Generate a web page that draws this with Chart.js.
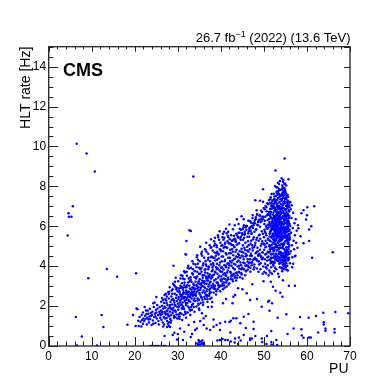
<!DOCTYPE html>
<html>
<head>
<meta charset="utf-8">
<script src="https://cdn.jsdelivr.net/npm/chart.js@4"></script>
<style>
  html, body { margin: 0; padding: 0; background: #fff; }
  #wrap { width: 389px; height: 389px; }
</style>
</head>
<body>
<div id="wrap"><canvas id="puChart" width="389" height="389"></canvas></div>
<script>
// HLT rate vs pileup

const xTickValues = [0, 10, 20, 30, 40, 50, 60, 70];
const yTickValues = [0, 2, 4, 6, 8, 10, 12, 14];

// lonely points far from the main band
const isolatedPoints = [
  [6.5,10.13],[8.8,9.65],[10.7,8.75],[5.6,7.0],[4.6,6.65],[4.7,6.48],[5.3,6.48],[4.4,5.54],
  [9.2,3.39],[13.5,3.86],[15.9,3.47],[20.3,3.64],[33.6,8.5],[29.0,4.02],[31.9,4.59],
  [32.7,5.8],[33.0,5.76],[32.0,5.26],[31.8,4.6],[35.2,4.97]
];

// points below the band (0 - 2 Hz)
const lowRatePoints = [
  [6.3,1.45],[6.6,0.03],[7.7,0.47],[11.2,0.02],[12.3,1.55],[12.7,0.95],[18.3,1.07],
  [23.5,0.0],[23.9,0.0],[24.3,0.0],[24.7,0.0],[25.1,0.0],[25.5,0.0],[25.9,0.0],[26.3,0.0],[26.7,0.0],[27.1,0.0],
  [26.9,0.5],[27.4,1.4],[27.5,0.95],[28.0,1.2],[28.2,0.95],[28.8,0.55],[29.2,0.67],[29.8,0.33],[30.0,0.6],
  [30.5,0.88],[31.2,0.3],[31.5,0.72],[32.5,1.05],[33.0,0.45],[33.3,0.6],[34.0,0.8],[34.4,0.88],[34.8,0.3],
  [34.5,0.12],[34.7,0.05],[35.0,0.18],[35.2,0.08],[35.4,0.22],[35.6,0.1],[35.9,0.15],[36.1,0.05],[34.9,0.25],[35.7,0.28],
  [35.2,1.25],[35.6,1.64],[36.0,1.05],[35.0,1.8],[36.7,0.88],[37.5,0.8],[38.3,1.33],[39.0,1.05],[39.8,0.8],
  [39.2,0.27],[39.8,0.3],[40.4,0.35],[41.0,0.3],[41.6,0.3],[42.3,0.22],[43.2,0.18],[44.0,0.1],
  [40.5,2.14],[41.2,2.35],[42.9,2.47],[43.3,2.55],[42.7,2.14],[42.0,1.2],[42.3,1.27],[42.9,1.39],[43.6,1.39],
  [41.0,1.22],[42.2,0.68],[44.2,0.43],[44.6,0.27],[44.5,1.14],[45.8,0.9],[46.4,1.6],[45.3,0.55],[46.8,0.3],
  [48.0,0.5],[49.6,0.2],[50.6,0.1],[51.7,0.2],[53.1,0.05],[47.6,1.22],[47.6,0.85],[49.5,0.38],[47.2,0.38],
  [50.7,0.5],[51.8,0.08],[52.9,0.3],[51.7,0.75],[55.5,0.6],
  [51.3,1.77],[51.0,2.22],[51.2,2.27],[51.9,2.14],[54.3,2.47],[53.8,2.67],[52.7,2.77],[52.1,2.97],[55.8,3.02],
  [54.4,3.3],[53.5,3.47],[51.6,3.22],[49.9,3.25],[48.4,2.35],[46.0,2.64],[47.3,3.1],[45.0,2.85],[44.0,2.9],
  [38.0,2.2],[37.0,1.95],[36.5,1.5],[33.8,1.2],[31.0,1.3],[30.2,1.45],
  [45.3,1.47],[49.5,1.97],[46.8,2.3],[37.9,1.97],[38.3,0.97],[36.0,1.39],[39.8,1.14],[43.3,0.38],[46.8,0.38],
  [55.2,1.59],[53.2,1.42],[56.9,0.88],[58.7,0.84],[58.4,1.45],[60.4,1.42],[62.1,1.5],[63.8,1.67],[66.6,1.7],[69.6,1.64],
  [63.9,1.19],[63.9,1.08],[64.3,0.88],[64.3,0.77],[66.4,0.85],[66.4,0.68],[62.6,0.68],[58.8,0.52],[59.2,0.41],
  [60.5,0.42],[60.9,0.42]
];

// rising band, PU 18 - 30
const bandLowPU = [
  [19.6,1.55],[20.4,1.88],[20.6,1.84],[20.2,1.0],[20.9,1.0],[21.3,1.22],[21.1,1.45],[21.7,1.3],
  [21.9,1.68],[21.5,0.98],[22.0,1.38],[20.8,1.27],[21.6,1.55],[21.9,1.12],
  [22.2,1.25],[22.4,1.52],[22.6,1.78],[22.8,1.08],[22.3,1.95],[22.9,1.42],[23.1,1.62],[23.3,1.18],[23.5,1.87],
  [23.6,1.35],[23.8,1.52],[23.9,1.05],[24.1,1.72],[24.2,1.28],[24.4,1.95],[24.5,1.45],[24.7,1.62],[24.8,1.15],
  [24.9,1.82],[25.1,1.38],[25.2,2.05],[25.4,1.55],[25.5,1.25],[25.7,1.72],[25.8,1.95],[25.9,1.42],[22.5,1.35],
  [23.0,1.78],[23.4,1.48],[24.0,1.55],[24.6,2.18],[25.0,1.68],[25.6,1.08],[23.7,1.66],[24.3,1.12],[22.7,1.6],
  [25.3,1.88],[24.8,1.48],[23.2,1.33],[25.9,1.62],[25.0,2.45],[24.3,2.14],
  [26.0,1.55],[26.1,1.78],[26.2,1.32],[26.3,2.02],[26.4,1.62],[26.5,1.18],[26.6,1.88],[26.7,1.45],[26.8,2.15],
  [26.9,1.7],[27.0,1.38],[27.1,1.92],[27.2,1.58],[27.3,2.28],[27.4,1.75],[27.5,1.25],[27.6,2.05],[27.7,1.62],
  [27.8,1.88],[27.9,2.38],[28.0,1.48],[28.1,1.95],[28.2,1.72],[28.3,2.22],[28.4,1.55],[28.5,2.48],[28.6,1.85],
  [28.7,2.08],[28.8,1.65],[28.9,2.35],[29.0,1.92],[29.1,1.42],[29.2,2.18],[29.3,2.62],[29.4,1.78],[29.5,2.02],
  [29.6,2.42],[29.7,1.58],[29.8,2.25],[29.9,1.95],[26.3,1.72],[26.9,1.98],[27.4,2.15],[27.8,1.52],[28.2,2.05],
  [28.6,2.32],[28.9,1.78],[29.3,2.05],[29.7,2.55],[27.1,1.65],[27.6,1.78],[28.4,1.88],[29.1,2.28],[29.5,1.72],
  [28.0,2.72],[28.8,2.85],[29.4,2.98],[27.9,2.6],[29.9,2.75],[26.6,2.3]
];

// rising band, PU 30 - 42
const bandMidPU = [
  [30.0,2.12],[30.1,1.82],[30.2,2.45],[30.3,2.02],[30.4,2.68],[30.5,1.65],[30.6,2.28],[30.7,2.92],[30.8,2.08],[30.9,1.88],
  [31.0,2.55],[31.1,2.18],[31.2,2.82],[31.3,1.95],[31.4,2.38],[31.5,3.05],[31.6,2.25],[31.7,1.72],[31.8,2.62],[31.9,2.05],
  [32.0,2.95],[32.1,2.42],[32.2,2.15],[32.3,2.72],[32.4,3.18],[32.5,2.32],[32.6,1.92],[32.7,2.58],[32.8,2.88],[32.9,2.22],
  [33.0,3.32],[33.1,2.65],[33.2,2.38],[33.3,2.05],[33.4,2.95],[33.5,2.52],[33.6,3.12],[33.7,2.28],[33.8,2.75],[33.9,3.45],
  [30.15,2.35],[30.45,2.18],[30.75,2.48],[31.05,2.02],[31.35,2.7],[31.65,2.45],[31.95,2.32],[32.25,2.58],[32.55,2.72],
  [32.85,2.45],[33.15,2.82],[33.45,2.62],[33.75,2.55],[30.25,1.95],[30.55,2.58],[30.85,2.35],[31.15,2.45],[31.45,1.85],
  [31.75,2.95],[32.05,2.68],[32.35,1.98],[32.65,3.02],[32.95,2.62],[33.25,2.72],[33.55,2.88],[33.85,2.38],[30.35,2.75],
  [30.65,2.05],[31.25,2.62],[31.85,2.15],[32.45,2.48],[33.05,2.55],[33.65,2.68],[30.95,3.15],[31.55,3.35],[32.15,3.52],
  [32.75,3.25],[33.35,3.65],[33.95,2.9],[31.8,1.62],[30.2,1.58],[32.9,1.78],[33.5,3.85],[32.3,3.92],[31.2,3.38],
  [33.8,3.05],[30.6,3.02],[32.6,2.25],[33.1,1.95],[31.9,2.78],
  [34.0,2.85],[34.1,3.22],[34.2,2.52],[34.3,3.05],[34.4,2.72],[34.5,3.48],[34.6,2.38],[34.7,3.15],[34.8,2.95],[34.9,3.62],
  [35.0,2.65],[35.1,3.35],[35.2,2.82],[35.3,3.08],[35.4,2.45],[35.5,3.72],[35.6,3.02],[35.7,2.68],[35.8,3.42],[35.9,3.18],
  [36.0,2.78],[36.1,3.55],[36.2,3.25],[36.3,2.92],[36.4,3.85],[36.5,2.55],[36.6,3.38],[36.7,3.12],[36.8,2.85],[36.9,3.65],
  [37.0,3.28],[37.1,2.98],[37.2,3.95],[37.3,3.45],[37.4,2.72],[37.5,3.58],[37.6,3.22],[37.7,4.08],[37.8,3.02],[37.9,3.75],
  [34.15,2.62],[34.45,3.02],[34.75,2.78],[35.05,3.12],[35.35,2.92],[35.65,3.28],[35.95,2.98],[36.25,3.12],[36.55,3.48],
  [36.85,3.28],[37.15,3.52],[37.45,3.18],[37.75,3.38],[34.25,3.38],[34.55,2.88],[34.85,3.25],[35.15,2.58],[35.45,3.15],
  [35.75,3.55],[36.05,3.22],[36.35,3.68],[36.65,2.75],[36.95,3.42],[37.25,3.08],[37.55,2.88],[37.85,3.48],[34.35,3.95],
  [34.65,4.12],[35.25,3.85],[35.85,4.05],[36.45,4.25],[37.05,3.85],[37.65,4.45],[34.05,2.25],[34.95,2.32],[35.55,2.42],
  [36.15,2.45],[36.75,2.55],[37.35,2.62],[37.95,2.95],[34.5,4.55],[35.6,4.72],[36.3,4.85],[37.1,4.42],[37.8,4.95],
  [35.9,2.18],[36.9,2.35],[34.8,2.05],[37.5,2.35],[36.6,4.02],
  [38.0,3.45],[38.1,3.82],[38.2,3.12],[38.3,4.05],[38.4,3.58],[38.5,2.92],[38.6,3.72],[38.7,4.28],[38.8,3.35],[38.9,3.95],
  [39.0,3.18],[39.1,4.12],[39.2,3.62],[39.3,3.88],[39.4,3.05],[39.5,4.38],[39.6,3.52],[39.7,3.78],[39.8,4.18],[39.9,3.32],
  [40.0,3.92],[40.1,3.48],[40.2,4.25],[40.3,3.72],[40.4,3.12],[40.5,4.48],[40.6,3.85],[40.7,3.38],[40.8,4.05],[40.9,3.65],
  [41.0,4.32],[41.1,3.55],[41.2,3.95],[41.3,4.58],[41.4,3.28],[41.5,4.12],[41.6,3.78],[41.7,4.42],[41.8,3.92],[41.9,4.65],
  [38.15,3.55],[38.45,3.28],[38.75,3.68],[39.05,3.85],[39.35,3.42],[39.65,4.05],[39.95,3.72],[40.25,3.95],[40.55,3.58],
  [40.85,4.25],[41.15,4.02],[41.45,3.68],[41.75,4.15],[38.25,4.42],[38.55,4.68],[38.85,4.52],[39.15,4.72],[39.45,4.62],
  [39.75,4.85],[40.05,4.75],[40.35,5.05],[40.65,4.92],[40.95,5.12],[41.25,4.95],[41.55,5.25],[41.85,5.15],[38.35,2.88],
  [38.65,3.02],[38.95,2.75],[39.25,3.15],[39.55,2.95],[39.85,3.02],[40.15,3.25],[40.45,2.85],[40.75,3.05],[41.05,3.35],
  [41.35,2.98],[41.65,3.42],[41.95,3.15],[38.05,3.95],[38.6,5.42],[39.3,5.55],[39.9,5.18],[40.5,5.62],[41.2,5.88],
  [41.7,5.72],[42.0,6.09],[39.0,5.05],[40.8,5.42],[38.4,5.02]
];

// extra points widening the band, PU 26 - 50
const bandSpread = [
  [26.37,2.41],[26.82,1.08],[26.14,2.22],[26.59,0.98],[26.91,2.55],
  [27.23,2.62],[27.68,1.12],[27.45,2.48],[27.91,1.02],[27.12,2.35],[27.77,2.71],
  [28.13,2.95],[28.47,1.28],[28.71,2.62],[28.36,1.18],[28.92,3.12],[28.58,2.78],[28.24,1.35],
  [29.17,3.05],[29.42,1.45],[29.63,2.85],[29.88,1.38],[29.35,3.22],[29.74,2.92],[29.06,1.52],[29.51,3.42],
  [30.09,3.25],[30.41,1.48],[30.62,3.38],[30.83,1.62],[30.27,2.88],[30.71,3.55],[30.38,1.35],[30.94,2.96],
  [31.08,3.52],[31.33,1.55],[31.57,3.18],[31.79,1.68],[31.22,2.92],[31.64,3.68],[31.91,1.42],[31.46,3.75],[31.13,1.88],
  [32.04,3.72],[32.31,1.68],[32.52,3.38],[32.77,1.82],[32.18,3.05],[32.63,3.88],[32.88,1.55],[32.42,4.02],[32.96,3.45],
  [33.07,3.92],[33.28,1.82],[33.49,3.58],[33.71,1.95],[33.19,3.22],[33.62,4.12],[33.87,1.72],[33.38,4.25],[33.93,3.75],[33.54,2.12],
  [34.11,4.08],[34.32,1.98],[34.53,3.72],[34.74,2.12],[34.23,3.45],[34.66,4.32],[34.89,1.88],[34.41,4.45],[34.97,3.92],[34.58,2.28],
  [35.08,4.25],[35.29,2.15],[35.51,3.92],[35.72,2.32],[35.18,3.62],[35.63,4.52],[35.86,2.05],[35.42,4.62],[35.94,4.15],[35.37,2.48],
  [36.12,4.42],[36.33,2.35],[36.54,4.08],[36.76,2.48],[36.21,3.82],[36.67,4.72],[36.88,2.22],[36.44,4.82],[36.98,4.32],[36.28,2.65],[36.59,5.18],
  [37.06,4.62],[37.27,2.52],[37.48,4.25],[37.69,2.68],[37.17,3.98],[37.61,4.92],[37.83,2.42],[37.39,5.05],[37.92,4.48],[37.33,2.82],[37.72,5.35],
  [38.09,4.78],[38.31,2.68],[38.52,4.42],[38.73,2.85],[38.19,4.15],[38.64,5.12],[38.86,2.58],[38.42,5.25],[38.97,4.65],[38.28,3.02],
  [39.04,4.95],[39.26,2.85],[39.47,4.58],[39.68,3.02],[39.14,4.32],[39.59,5.32],[39.81,2.75],[39.37,5.45],[39.92,4.82],[39.23,3.18],[39.71,5.75],
  [40.07,5.02],[40.28,3.02],[40.49,4.75],[40.71,3.18],[40.17,4.48],[40.62,5.32],[40.84,2.92],[40.39,5.45],[40.93,4.98],[40.26,3.35],[40.76,5.72],
  [41.03,5.18],[41.24,3.18],[41.46,4.92],[41.67,3.35],[41.13,4.65],[41.58,5.52],[41.79,3.08],[41.35,5.65],[41.91,5.15],[41.21,3.52],[41.73,5.45],
  [42.06,5.35],[42.27,3.35],[42.48,5.08],[42.69,3.52],[42.16,4.82],[42.61,5.28],[42.82,3.25],[42.38,5.55],[42.93,5.32],[42.24,3.68],
  [43.02,5.52],[43.23,3.52],[43.44,5.25],[43.66,3.68],[43.12,4.98],[43.57,5.62],[43.78,3.42],[43.34,5.35],[43.89,5.48],[43.19,3.85],[43.71,6.35],
  [44.08,5.68],[44.29,3.68],[44.51,5.42],[44.72,3.85],[44.18,5.15],[44.63,5.48],[44.84,3.58],[44.39,5.88],[44.95,5.65],[44.26,4.02],
  [45.04,5.85],[45.26,3.85],[45.47,5.58],[45.68,4.02],[45.14,5.32],[45.59,5.62],[45.81,3.75],[45.36,6.05],[45.92,5.82],[45.21,4.18],[45.73,5.95],
  [46.07,6.02],[46.28,4.02],[46.49,5.75],[46.71,4.18],[46.17,5.48],[46.62,5.88],[46.83,3.92],[46.38,6.28],[46.94,5.98],[46.24,4.35],
  [47.03,6.18],[47.24,4.18],[47.46,5.92],[47.67,4.35],[47.13,5.65],[47.58,6.05],[47.79,4.08],[47.35,6.42],[47.91,6.15],[47.21,4.52],
  [48.06,6.35],[48.27,4.35],[48.48,6.08],[48.69,4.52],[48.16,5.82],[48.61,6.22],[48.82,4.25],[48.37,6.58],[48.93,6.32],[48.23,4.68],[48.74,3.72],
  [49.02,6.52],[49.23,4.52],[49.44,6.25],[49.66,4.68],[49.12,5.98],[49.57,6.72],[49.78,4.42],[49.33,6.38],[49.89,6.48],[49.19,3.85],[49.71,3.62]
];

// rising band, PU 42 - 50
const bandHighPU = [
  [42.0,4.05],[42.1,4.42],[42.2,3.72],[42.3,4.65],[42.4,4.18],[42.5,3.58],[42.6,4.85],[42.7,4.28],[42.8,3.92],[42.9,4.55],
  [43.0,4.12],[43.1,4.95],[43.2,3.85],[43.3,4.38],[43.4,4.72],[43.5,3.65],[43.6,4.48],[43.7,5.08],[43.8,4.22],[43.9,3.98],
  [44.0,4.62],[44.1,4.28],[44.2,5.15],[44.3,3.88],[44.4,4.75],[44.5,4.42],[44.6,5.32],[44.7,4.05],[44.8,4.88],[44.9,4.52],
  [45.0,3.92],[45.1,5.05],[45.2,4.68],[45.3,4.35],[45.4,5.42],[45.5,4.15],[45.6,4.82],[45.7,5.18],[45.8,4.48],[45.9,3.78],
  [42.15,4.25],[42.45,4.02],[42.75,4.72],[43.05,4.35],[43.35,4.08],[43.65,4.82],[43.95,4.45],[44.25,4.55],[44.55,4.18],
  [44.85,4.72],[45.15,4.48],[45.45,4.92],[45.75,4.62],[42.25,5.12],[42.55,5.28],[42.85,5.05],[43.15,5.38],[43.45,5.22],
  [43.75,5.55],[44.05,5.42],[44.35,5.68],[44.65,5.82],[44.95,5.58],[45.25,5.95],[45.55,5.72],[45.85,6.02],[42.35,3.48],
  [42.65,3.35],[42.95,3.62],[43.25,3.42],[43.55,3.28],[43.85,3.55],[44.15,3.72],[44.45,3.45],[44.75,3.65],[45.05,3.38],
  [45.35,3.85],[45.65,3.55],[45.95,4.05],[44.8,6.5],[43.2,6.05],[45.3,6.35],[42.8,5.85],[44.1,6.12],
  [46.0,4.55],[46.1,4.98],[46.2,4.22],[46.3,5.25],[46.4,4.72],[46.5,3.95],[46.6,5.48],[46.7,4.85],[46.8,4.35],[46.9,5.12],
  [47.0,4.62],[47.1,5.62],[47.2,4.18],[47.3,5.05],[47.4,4.78],[47.5,5.35],[47.6,3.85],[47.7,4.95],[47.8,5.72],[47.9,4.42],
  [48.0,5.18],[48.1,4.65],[48.2,5.85],[48.3,4.28],[48.4,5.42],[48.5,4.92],[48.6,6.05],[48.7,4.55],[48.8,5.28],[48.9,4.08],
  [49.0,5.58],[49.1,4.82],[49.2,6.22],[49.3,5.02],[49.4,4.45],[49.5,5.75],[49.6,5.25],[49.7,4.68],[49.8,6.35],[49.9,5.12],
  [46.15,4.78],[46.45,5.05],[46.75,4.52],[47.05,5.28],[47.35,4.92],[47.65,5.45],[47.95,5.05],[48.25,5.32],[48.55,4.75],
  [48.85,5.55],[49.15,5.38],[49.45,5.12],[49.75,5.62],[46.25,3.82],[46.55,4.15],[46.85,3.72],[47.15,4.05],[47.45,4.32],
  [47.75,3.95],[48.05,4.38],[48.35,3.88],[48.65,4.25],[48.95,4.62],[49.25,4.15],[49.55,4.35],[49.85,3.98],[46.35,5.65],
  [46.65,5.92],[46.95,5.78],[47.25,6.02],[47.55,6.15],[47.85,6.28],[48.15,6.45],[48.45,6.62],[48.75,6.32],[49.05,6.55],
  [49.35,6.78],[49.65,6.48],[49.95,6.92],[48.0,7.3],[49.1,7.28],[49.8,7.23],[49.8,7.85],[48.3,6.8],[47.4,6.55],[46.8,6.25]
];

// dense core, PU 50 - 54
const coreLeft = [
  [50.0,5.45],[50.05,4.82],[50.1,6.12],[50.15,5.08],[50.2,4.35],[50.25,5.72],[50.3,6.48],[50.35,4.95],[50.4,5.28],[50.45,3.95],
  [50.5,6.02],[50.55,5.55],[50.6,4.62],[50.65,6.75],[50.7,5.15],[50.75,4.28],[50.8,5.88],[50.85,6.32],[50.9,4.72],[50.95,5.38],
  [51.0,7.1],[51.05,4.48],[51.1,5.95],[51.15,6.58],[51.2,5.02],[51.25,3.78],[51.3,6.22],[51.35,5.62],[51.4,4.85],[51.45,6.85],
  [51.5,5.25],[51.55,4.15],[51.6,6.42],[51.65,5.78],[51.7,4.58],[51.75,7.05],[51.8,5.48],[51.85,6.15],[51.9,4.92],[51.95,5.85],
  [50.02,5.12],[50.12,5.82],[50.22,6.28],[50.32,4.58],[50.42,5.65],[50.52,4.98],[50.62,5.92],[50.72,6.55],[50.82,4.45],
  [50.92,6.08],[51.02,5.32],[51.12,4.68],[51.22,6.72],[51.32,5.05],[51.42,5.72],[51.52,6.62],[51.62,4.38],[51.72,5.98],
  [51.82,6.88],[51.92,4.22],[50.08,3.72],[50.28,4.12],[50.48,3.65],[50.68,3.88],[50.88,4.05],[51.08,3.55],[51.28,4.32],
  [51.48,3.68],[51.68,3.95],[51.88,3.62],[50.18,6.85],[50.38,7.02],[50.58,6.95],[50.78,7.15],[50.98,6.62],[51.18,7.32],
  [51.38,7.18],[51.58,7.45],[51.78,7.62],[51.98,7.28],
  [52.0,5.62],[52.03,4.88],[52.06,6.35],[52.09,5.15],[52.12,7.02],[52.15,4.42],[52.18,5.95],[52.21,6.68],[52.24,5.32],[52.27,4.75],
  [52.3,6.12],[52.33,7.35],[52.36,5.48],[52.39,4.22],[52.42,6.52],[52.45,5.78],[52.48,4.95],[52.51,7.18],[52.54,6.02],[52.57,5.25],
  [52.6,3.92],[52.63,6.85],[52.66,5.58],[52.69,4.62],[52.72,6.38],[52.75,7.52],[52.78,5.08],[52.81,6.18],[52.84,4.35],[52.87,5.85],
  [52.9,6.72],[52.93,5.42],[52.96,7.68],[52.99,4.78],[53.02,6.25],[53.05,5.65],[53.08,7.05],[53.11,4.52],[53.14,5.98],[53.17,6.58],
  [53.2,5.18],[53.23,7.42],[53.26,4.25],[53.29,6.08],[53.32,5.52],[53.35,6.92],[53.38,4.85],[53.41,5.72],[53.44,7.78],[53.47,6.42],
  [53.5,5.05],[53.53,4.45],[53.56,6.65],[53.59,5.88],[53.62,7.22],[53.65,5.35],[53.68,4.15],[53.71,6.32],[53.74,7.58],[53.77,5.62],
  [53.8,4.92],[53.83,6.82],[53.86,5.45],[53.89,7.12],[53.92,4.68],[53.95,6.05],[53.98,5.78],
  [52.02,4.18],[52.08,6.92],[52.14,5.52],[52.2,4.02],[52.26,6.45],[52.32,5.88],[52.38,7.12],[52.44,4.85],[52.5,5.35],
  [52.56,6.78],[52.62,4.48],[52.68,7.25],[52.74,5.72],[52.8,6.55],[52.86,4.62],[52.92,5.95],[52.98,6.98],[53.04,4.95],
  [53.1,7.32],[53.16,5.42],[53.22,6.72],[53.28,4.38],[53.34,6.18],[53.4,7.65],[53.46,5.25],[53.52,6.88],[53.58,4.72],
  [53.64,6.48],[53.7,5.92],[53.76,4.28],[53.82,7.35],[53.88,5.28],[53.94,6.62],[52.05,5.92],[52.11,6.18],[52.17,5.35],
  [52.23,6.02],[52.29,5.62],[52.35,6.38],[52.41,5.12],[52.47,6.25],[52.53,5.68],[52.59,6.32],[52.65,5.85],[52.71,5.28],
  [52.77,6.12],[52.83,5.62],[52.89,6.42],[52.95,5.52],[53.01,5.82],[53.07,6.38],[53.13,5.58],[53.19,6.28],[53.25,5.72],
  [53.31,6.62],[53.37,5.95],[53.43,6.35],[53.49,5.68],[53.55,6.18],[53.61,5.48],[53.67,6.52],[53.73,6.08],[53.79,5.82],
  [53.85,6.25],[53.91,5.58],[53.97,6.72],[52.4,3.75],[52.9,3.85],[53.3,3.62],[53.7,3.95],
  [52.6,8.02],[53.1,7.95],[52.7,8.8],[53.5,8.12]
];

// dense core, PU 54 - 58
const coreRight = [
  [54.0,5.95],[54.03,5.12],[54.06,6.68],[54.09,4.55],[54.12,7.28],[54.15,5.58],[54.18,6.22],[54.21,4.92],[54.24,7.62],[54.27,5.35],
  [54.3,6.45],[54.33,4.28],[54.36,5.85],[54.39,7.05],[54.42,5.02],[54.45,6.78],[54.48,4.65],[54.51,6.12],[54.54,7.45],[54.57,5.48],
  [54.6,6.92],[54.63,4.38],[54.66,5.72],[54.69,7.72],[54.72,6.35],[54.75,5.18],[54.78,6.58],[54.81,4.82],[54.84,7.15],[54.87,5.92],
  [54.9,4.45],[54.93,6.48],[54.96,5.25],[54.99,7.38],[55.02,5.68],[55.05,4.72],[55.08,6.85],[55.11,5.42],[55.14,7.02],[55.17,4.58],
  [55.2,6.15],[55.23,5.78],[55.26,6.72],[55.29,4.95],[55.32,5.55],[55.35,6.38],[55.38,4.35],[55.41,7.22],[55.44,5.82],[55.47,6.05],
  [55.5,5.15],[55.53,6.62],[55.56,4.68],[55.59,5.92],[55.62,7.48],[55.65,5.38],[55.68,6.25],[55.71,4.85],[55.74,6.82],[55.77,5.62],
  [55.8,4.42],[55.83,6.42],[55.86,5.08],[55.89,5.85],[55.92,6.95],[55.95,4.62],[55.98,5.45],
  [54.02,6.38],[54.08,5.78],[54.14,6.92],[54.2,5.42],[54.26,6.12],[54.32,5.65],[54.38,6.52],[54.44,5.92],[54.5,6.72],
  [54.56,6.02],[54.62,5.52],[54.68,6.28],[54.74,5.82],[54.8,6.15],[54.86,5.45],[54.92,6.62],[54.98,5.72],[55.04,6.32],
  [55.1,5.95],[55.16,6.48],[55.22,5.28],[55.28,6.18],[55.34,5.72],[55.4,6.55],[55.46,5.48],[55.52,6.02],[55.58,5.35],
  [55.64,6.08],[55.7,5.58],[55.76,6.18],[55.82,5.32],[55.88,6.52],[55.94,5.78],[54.05,4.18],[54.11,3.92],[54.17,4.45],
  [54.23,3.75],[54.29,4.62],[54.35,4.08],[54.41,3.88],[54.47,4.25],[54.53,4.52],[54.59,3.98],[54.65,4.12],[54.71,4.38],
  [54.77,3.85],[54.83,4.28],[54.89,4.05],[54.95,4.72],[55.01,4.22],[55.07,3.95],[55.13,4.48],[55.19,4.15],[55.25,4.35],
  [55.31,3.82],[55.37,4.58],[55.43,4.02],[55.49,4.42],[55.55,3.78],[55.61,4.28],[54.07,7.52],[54.13,7.85],[54.19,7.32],
  [54.25,8.05],[54.31,7.68],[54.37,7.95],[54.43,7.42],[54.49,7.78],[54.55,7.18],[54.61,7.92],[54.67,7.55],[54.73,8.12],
  [54.79,7.25],[54.85,7.65],[54.91,7.82],[54.97,7.38],[55.03,7.72],[55.09,7.45],[55.15,7.62],[55.21,7.35],[55.3,7.55],
  [55.45,7.12],[55.6,7.28],[55.75,7.05],[55.9,7.18],[54.8,9.4],[55.7,8.36],[54.4,8.23],
  [56.0,5.35],[56.1,6.02],[56.2,4.75],[56.3,5.68],[56.4,6.42],[56.5,5.05],[56.6,4.45],[56.7,5.92],[56.8,6.68],[56.9,5.28],
  [57.0,4.85],[57.1,6.15],[57.2,5.55],[57.3,4.52],[57.4,6.35],[57.5,5.18],[57.6,5.78],[57.8,4.92],[57.9,6.05],[56.25,6.85],
  [56.45,7.05],[56.05,4.15],[56.55,3.95],[56.15,7.22],[57.2,3.02],[56.8,4.12]
];

// extra core points filling PU 51 - 56
const coreFill = [
  [51.63,6.44],[53.87,4.71],[52.29,7.63],[55.41,5.27],[54.16,3.88],[51.92,5.53],[53.34,6.97],[55.78,4.36],[52.71,5.09],[54.58,7.21],
  [52.06,4.62],[54.93,6.83],[51.47,5.71],[53.62,7.48],[55.19,4.94],[52.84,6.26],[54.37,5.13],[51.75,7.02],[53.11,4.29],[55.66,6.57],
  [53.48,5.84],[51.28,6.12],[54.71,4.53],[52.43,6.78],[55.03,7.66],[53.95,5.37],[52.17,4.08],[54.24,6.41],[51.86,4.87],[55.52,5.98],
  [52.58,7.34],[54.82,5.62],[53.21,4.47],[51.54,6.89],[55.27,6.21],[53.76,7.82],[52.95,5.46],[54.48,4.19],[51.39,5.28],[55.87,6.74],
  [54.05,6.96],[52.36,5.82],[55.34,4.81],[53.03,6.63],[51.71,4.43],[54.66,5.74],[52.89,4.98],[55.11,7.39],[53.57,4.12],[51.98,7.28],
  [53.29,5.68],[55.72,5.19],[52.12,6.58],[54.29,7.57],[51.57,4.26],[53.92,6.14],[52.64,4.33],[54.97,4.67],[51.23,6.36],[55.46,6.93],
  [52.47,5.22],[54.12,5.31],[53.69,6.48],[51.81,5.92],[55.58,4.58],[53.16,7.13],[52.78,6.02],[54.54,6.68],[51.44,4.74],[55.93,5.58],
  [54.77,7.92],[52.23,7.01],[53.41,4.62],[55.16,5.86],[51.66,6.71],[54.39,4.96],[52.99,7.74],[55.62,6.29],[53.83,5.06],[52.52,4.17],
  [53.07,6.84],[54.88,4.27],[51.94,6.25],[55.31,7.04],[52.67,5.61],[54.21,5.92],[53.52,4.91],[51.33,5.49],[55.84,4.97],[52.91,6.53],
  [54.62,5.44],[52.04,5.17],[53.98,7.36],[55.07,5.51],[51.52,7.37],[54.34,6.77],[52.39,4.52],[53.25,6.32],[55.49,7.58],[53.66,5.52],
  [51.77,5.05],[54.09,4.49],[52.81,7.21],[55.22,6.46],[53.37,5.17],[51.61,5.83],[54.74,6.14],[52.54,6.92],[55.69,4.71],[53.79,4.58],
  [52.27,4.77],[54.44,7.08],[51.88,6.04],[55.38,5.34],[53.13,5.94],[52.73,4.41],[54.99,6.36],[53.58,7.01],[51.36,4.98],[55.97,6.12],
  [53.44,6.71],[52.14,6.41],[54.57,4.88],[55.12,4.49],[51.69,5.44],[53.91,5.73],[52.86,5.31],[54.18,6.86],[55.54,7.02],[51.49,6.52],
  [54.69,5.09],[52.32,6.14],[53.72,4.39],[55.28,6.68],[51.83,7.16],[54.02,5.53],[52.61,6.47],[53.19,7.58],[55.81,5.78],[53.05,5.03],
  [52.97,6.19],[54.27,4.32],[51.59,4.61],[55.43,5.42],[53.31,6.52],[52.44,7.49],[54.84,6.53],[53.86,6.91],[51.42,6.07],[55.64,5.11],
  [53.24,8.18],[54.51,8.32],[52.87,7.96],[55.18,8.05],[53.71,8.27],[54.12,8.41],[53.46,7.88],[54.89,8.15]
];

// sparse cloud right of the core
const farRightPoints = [
  [58.7,6.65],[59.2,6.8],[60.1,6.95],[61.7,7.0],[60.0,6.55],[59.8,6.34],[61.0,6.0],[60.5,5.84],[58.0,5.9],
  [60.5,5.26],[66.0,4.7],[61.2,4.42],[57.2,4.5],[58.5,5.5],[59.2,5.15]
];

const allPoints = [].concat(isolatedPoints, lowRatePoints, bandLowPU, bandMidPU, bandSpread, bandHighPU,
  coreLeft, coreRight, coreFill, farRightPoints).map(p => ({ x: p[0], y: p[1] }));

const FONT = "'Liberation Sans', Arial, sans-serif";

// ROOT style frame: inward ticks on all four sides + the texts
const rootFrame = {
  id: 'rootFrame',
  afterDatasetsDraw(chart) {
    const { ctx, chartArea: a, scales: { x, y } } = chart;
    ctx.save();
    ctx.strokeStyle = '#222';
    ctx.lineWidth = 1;
    ctx.beginPath();
    for (let v = 0; v <= 70; v += 2) {
      const px = Math.round(x.getPixelForValue(v)) + 0.5;
      const major = v % 10 === 0;
      ctx.moveTo(px, a.bottom); ctx.lineTo(px, a.bottom - (major ? 9 : 4.5));
      ctx.moveTo(px, a.top); ctx.lineTo(px, a.top + (major ? 5 : 2.7));
    }
    for (let v = 0; v <= 15; v += 0.5) {
      const py = Math.round(y.getPixelForValue(v)) + 0.5;
      const major = v % 2 === 0;
      ctx.moveTo(a.left, py); ctx.lineTo(a.left + (major ? 9.5 : 4.7), py);
      if (v % 1 === 0) { ctx.moveTo(a.right, py); ctx.lineTo(a.right - 6, py); }
    }
    ctx.stroke();
    ctx.lineWidth = 1.3;
    ctx.strokeRect(a.left, a.top, a.right - a.left, a.bottom - a.top);

    ctx.fillStyle = '#000';
    // CMS label
    ctx.font = 'bold 18px ' + FONT;
    ctx.textAlign = 'left';
    ctx.textBaseline = 'alphabetic';
    ctx.fillText('CMS', 63, 76);

    // x title
    ctx.font = '14px ' + FONT;
    ctx.textAlign = 'right';
    ctx.fillText('PU', a.right - 1.5, 373);

    // y title, rotated, ending at the top of the frame
    ctx.save();
    ctx.translate(29.5, a.top);
    ctx.rotate(-Math.PI / 2);
    ctx.textAlign = 'right';
    ctx.fillText('HLT rate [Hz]', 0, 0);
    ctx.restore();

    // lumi label with superscript
    const big = '13px ' + FONT, small = '9px ' + FONT;
    const partA = '26.7 fb', sup = '\u22121', partB = ' (2022) (13.6 TeV)';
    ctx.textAlign = 'left';
    ctx.font = big; const wA = ctx.measureText(partA).width, wB = ctx.measureText(partB).width;
    ctx.font = small; const wS = ctx.measureText(sup).width;
    let tx = a.right + 0.5 - (wA + wS + wB);
    const base = 42;
    ctx.font = big; ctx.fillText(partA, tx, base); tx += wA;
    ctx.font = small; ctx.fillText(sup, tx, base - 5); tx += wS;
    ctx.font = big; ctx.fillText(partB, tx, base);
    ctx.restore();
  }
};

new Chart(document.getElementById('puChart'), {
  type: 'scatter',
  data: {
    datasets: [{
      data: allPoints,
      pointRadius: 1.25,
      pointHoverRadius: 0,
      pointBackgroundColor: '#0000ff',
      pointBorderWidth: 0,
      showLine: false
    }]
  },
  options: {
    responsive: false,
    animation: false,
    events: [],
    layout: { padding: { top: 46.7, right: 39, left: 0, bottom: 0 } },
    plugins: { legend: { display: false }, tooltip: { enabled: false } },
    scales: {
      x: {
        type: 'linear', min: 0, max: 70,
        afterBuildTicks: s => { s.ticks = xTickValues.map(v => ({ value: v })); },
        afterFit: s => { s.height = 43; },
        grid: { display: false, drawTicks: false },
        border: { display: false },
        ticks: { color: '#000', font: { family: FONT, size: 12 }, padding: 3, maxRotation: 0, autoSkip: false }
      },
      y: {
        type: 'linear', min: 0, max: 15,
        afterBuildTicks: s => { s.ticks = yTickValues.map(v => ({ value: v })); },
        afterFit: s => { s.width = 48.7; },
        grid: { display: false, drawTicks: false },
        border: { display: false },
        ticks: { color: '#000', font: { family: FONT, size: 12 }, padding: 2.5, autoSkip: false }
      }
    }
  },
  plugins: [rootFrame]
});
</script>
</body>
</html>
